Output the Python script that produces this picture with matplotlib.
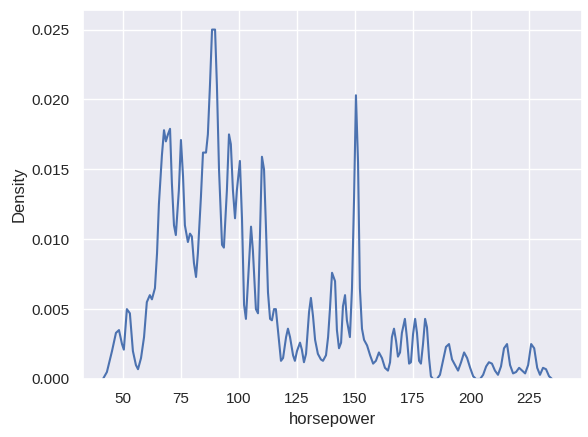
import matplotlib
matplotlib.use("Agg")
import matplotlib.pyplot as plt
import seaborn as sns

# density curve
horsepower = [41.4, 43.1, 45.3, 47.0, 48.3, 49.6, 50.4, 51.7, 53.0, 54.3, 55.6, 56.5, 57.8, 59.1,
              60.3, 61.6, 62.5, 63.8, 64.7, 65.5, 66.8, 67.7, 68.5, 69.4, 70.3, 71.1, 72.0, 72.8,
              74.1, 75.0, 75.9, 76.7, 78.0, 78.9, 79.7, 80.6, 81.5, 82.3, 83.6, 84.5, 85.8, 86.6,
              87.5, 88.4, 89.7, 90.5, 91.4, 92.7, 93.5, 94.8, 95.7, 96.5, 97.4, 98.3, 99.1, 100.4,
              101.3, 102.2, 103.0, 103.9, 105.2, 106.0, 107.3, 108.2, 109.0, 109.9, 110.8, 111.6,
              112.5, 113.4, 114.2, 115.1, 115.9, 116.8, 118.1, 119.0, 120.3, 121.1, 122.0, 123.3,
              124.1, 125.0, 126.3, 127.1, 128.0, 128.9, 130.2, 131.0, 131.9, 132.8, 134.0, 135.3,
              136.2, 137.5, 138.4, 139.2, 140.1, 141.4, 142.2, 143.1, 144.0, 144.8, 145.7, 146.5,
              147.8, 148.7, 149.6, 150.4, 151.3, 152.1, 153.0, 153.9, 155.2, 156.5, 157.8, 159.0,
              160.3, 161.6, 162.9, 164.2, 165.1, 165.9, 166.8, 167.7, 168.5, 169.4, 170.2, 171.5,
              172.4, 173.3, 174.1, 175.0, 175.9, 176.7, 177.6, 178.4, 179.3, 180.2, 181.0, 181.9,
              182.7, 183.6, 185.3, 186.6, 187.9, 189.2, 190.5, 191.8, 193.1, 194.4, 195.7, 197.0,
              198.3, 199.6, 200.9, 202.1, 203.9, 205.2, 206.5, 207.7, 209.0, 210.3, 211.6, 212.9,
              214.2, 215.5, 216.8, 218.1, 219.4, 220.7, 222.0, 223.3, 224.6, 225.9, 227.2, 228.5,
              229.7, 231.0, 232.3, 233.6, 234.9]
density = [0.0, 0.0005, 0.002, 0.0033, 0.0035, 0.0025, 0.0021, 0.005, 0.0047, 0.002, 0.001, 0.0007,
           0.0015, 0.003, 0.0055, 0.006, 0.0057, 0.0065, 0.009, 0.0125, 0.016, 0.0178, 0.017, 0.0175,
           0.0179, 0.014, 0.011, 0.0103, 0.0135, 0.0171, 0.0145, 0.011, 0.0098, 0.0104, 0.0102,
           0.0083, 0.0073, 0.009, 0.013, 0.0162, 0.0162, 0.0175, 0.021, 0.025, 0.025, 0.021, 0.015,
           0.0096, 0.0094, 0.0135, 0.0175, 0.0168, 0.0135, 0.0115, 0.0135, 0.0156, 0.0115, 0.0053,
           0.0043, 0.007, 0.0109, 0.0092, 0.005, 0.0047, 0.01, 0.0159, 0.015, 0.011, 0.0062, 0.0043,
           0.0042, 0.005, 0.005, 0.0035, 0.0013, 0.0015, 0.003, 0.0036, 0.003, 0.0017, 0.0013, 0.002,
           0.0026, 0.0021, 0.0012, 0.0018, 0.0048, 0.0058, 0.0045, 0.0028, 0.0018, 0.0014, 0.0013,
           0.0017, 0.003, 0.005, 0.0076, 0.007, 0.0035, 0.0022, 0.0026, 0.0052, 0.006, 0.0042, 0.003,
           0.0065, 0.013, 0.0203, 0.0155, 0.0065, 0.0036, 0.0028, 0.0024, 0.0017, 0.0011, 0.0013,
           0.0019, 0.0015, 0.0008, 0.0006, 0.0012, 0.003, 0.0036, 0.0027, 0.0016, 0.0019, 0.0033,
           0.0043, 0.0029, 0.0011, 0.0012, 0.0032, 0.0043, 0.0033, 0.0013, 0.0011, 0.0025, 0.0043,
           0.0037, 0.0015, 0.0002, 0.0, 0.0, 0.0003, 0.0013, 0.0023, 0.0025, 0.0014, 0.001, 0.0006,
           0.0012, 0.0019, 0.0015, 0.0008, 0.0002, 0.0, 0.0, 0.0003, 0.0009, 0.0012, 0.0011, 0.0006,
           0.0003, 0.0009, 0.0022, 0.0025, 0.001, 0.0004, 0.0005, 0.0008, 0.0006, 0.0004, 0.001,
           0.0025, 0.0022, 0.0008, 0.0003, 0.0008, 0.0007, 0.0002, 0.0]

sns.set_theme()
plt.rcParams['font.family'] = ['Liberation Sans', 'DejaVu Sans']
fig = plt.figure(figsize=(5.88, 4.37), dpi=100)
ax = fig.add_axes([83/588, 58/437, 499/588, 369/437])
ax.plot(horsepower, density, color="#4c72b0", lw=1.5)
ax.set_xlim(32.8, 247.8)
ax.set_ylim(0, 0.0264)
ax.set_xlabel("horsepower")
ax.set_ylabel("Density")
fig.savefig("out.png")
